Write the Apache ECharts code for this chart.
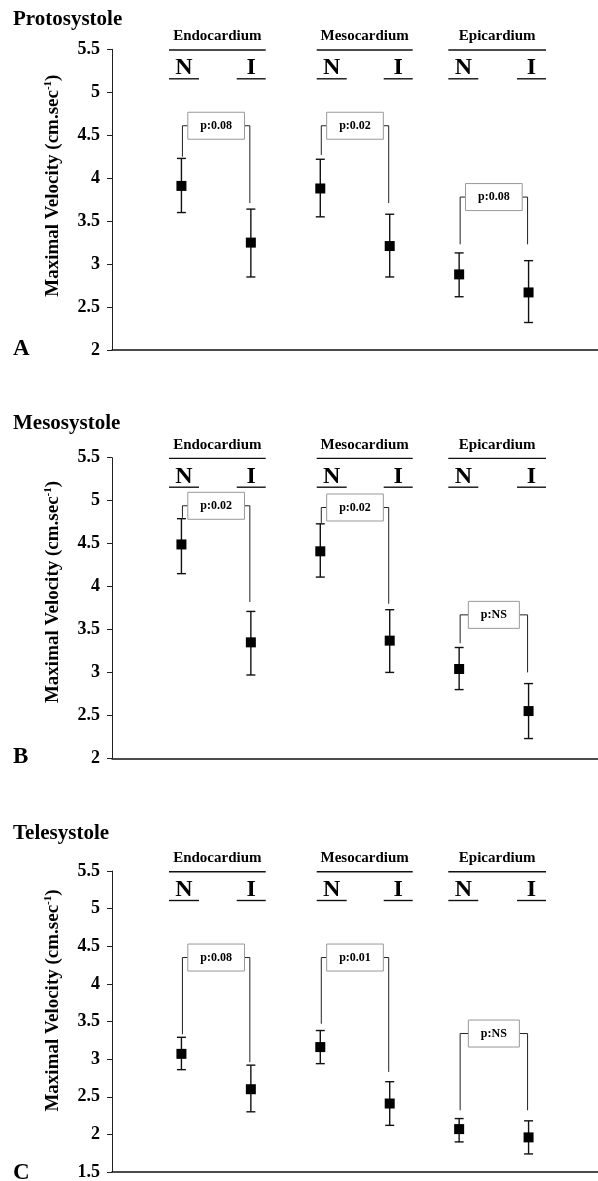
<!DOCTYPE html>
<html>
<head>
<meta charset="utf-8">
<script src="https://cdn.jsdelivr.net/npm/echarts@6/dist/echarts.min.js"></script>
<style>html,body{margin:0;padding:0;background:#fff;}#chart{width:598px;height:1181px;}</style>
</head>
<body>
<div id="chart"></div>
<script>
// ---- data ----
const panelTitles = ['Protosystole', 'Mesosystole', 'Telesystole'];
const panelLetters = ['A', 'B', 'C'];
const layers = ['Endocardium', 'Mesocardium', 'Epicardium'];
const conditions = ['N', 'I'];
const yAxisMin = [2, 2, 1.5];
const yAxisMax = [5.5, 5.5, 5.5];
const yTickStep = 0.5;
const yAxisTitle = 'Maximal Velocity (cm.sec';
const yAxisTitleSup = '-1';

// order: Endo N, Endo I, Meso N, Meso I, Epi N, Epi I
const protoMean = [3.91, 3.25, 3.88, 3.21, 2.88, 2.67];
const protoHigh = [4.23, 3.64, 4.22, 3.58, 3.13, 3.04];
const protoLow  = [3.60, 2.85, 3.55, 2.85, 2.62, 2.32];
const mesoMean  = [4.49, 3.35, 4.41, 3.37, 3.04, 2.55];
const mesoHigh  = [4.79, 3.71, 4.73, 3.73, 3.29, 2.87];
const mesoLow   = [4.15, 2.97, 4.11, 3.00, 2.80, 2.23];
const teleMean  = [3.07, 2.60, 3.16, 2.41, 2.07, 1.96];
const teleHigh  = [3.29, 2.92, 3.38, 2.70, 2.21, 2.18];
const teleLow   = [2.86, 2.30, 2.94, 2.12, 1.90, 1.74];

// significance brackets per layer
const protoP = ['p:0.08', 'p:0.02', 'p:0.08'];
const mesoP  = ['p:0.02', 'p:0.02', 'p:NS'];
const teleP  = ['p:0.08', 'p:0.01', 'p:NS'];
const protoBracket = [4.61, 4.61, 3.78];
const protoLegN    = [4.25, 4.27, 3.23];
const protoLegI    = [3.71, 3.71, 3.23];
const mesoBracket  = [4.94, 4.92, 3.67];
const mesoLegN     = [4.80, 4.74, 3.34];
const mesoLegI     = [3.82, 3.80, 3.00];
const teleBracket  = [4.35, 4.35, 3.34];
const teleLegN     = [3.33, 3.47, 2.32];
const teleLegI     = [2.96, 2.83, 2.32];

// ---- layout / style ----
const FONT = '"Liberation Serif","Times New Roman","DejaVu Serif",serif';
const panels = [
  {mean: protoMean, high: protoHigh, low: protoLow, p: protoP, br: protoBracket, legN: protoLegN, legI: protoLegI},
  {mean: mesoMean, high: mesoHigh, low: mesoLow, p: mesoP, br: mesoBracket, legN: mesoLegN, legI: mesoLegI},
  {mean: teleMean, high: teleHigh, low: teleLow, p: teleP, br: teleBracket, legN: teleLegN, legI: teleLegI}
];
const gridBoxes = [
  {top: 49.3, height: 300.7, titleY: 20, letterY: 349, nameShift: 28},
  {top: 457.7, height: 300.6, titleY: 424, letterY: 757.5, nameShift: 32},
  {top: 871, height: 303, titleY: 833.5, letterY: 1173, nameShift: 42}
];
const GRID_LEFT = 112, GRID_WIDTH = 489;
const headerSpans = [[169, 265.7], [316.7, 412.7], [448.3, 546]];

const measureCtx = document.createElement('canvas').getContext('2d');
measureCtx.font = 'bold 12px ' + FONT;
function textW(t) { return measureCtx.measureText(t).width; }

const chart = echarts.init(document.getElementById('chart'), null, {renderer: 'canvas'});

const grid = [], xAxis = [], yAxis = [], series = [], graphic = [];

panels.forEach((pd, i) => {
  const gb = gridBoxes[i];
  grid.push({left: GRID_LEFT, width: GRID_WIDTH, top: gb.top, height: gb.height});
  xAxis.push({
    type: 'value', gridIndex: i, min: 0, max: 7,
    axisLine: {show: true, onZero: false, lineStyle: {color: '#111', width: 1.5}},
    axisTick: {show: false}, axisLabel: {show: false}, splitLine: {show: false}
  });
  yAxis.push({
    type: 'value', gridIndex: i, min: yAxisMin[i], max: yAxisMax[i], interval: yTickStep,
    axisLine: {show: true, lineStyle: {color: '#222', width: 1}},
    axisTick: {show: true, length: 5, lineStyle: {color: '#222', width: 1}},
    axisLabel: {margin: 12, color: '#000', fontFamily: FONT, fontWeight: 'bold', fontSize: 18},
    splitLine: {show: false},
    name: '{a|' + yAxisTitle + '}{s|' + yAxisTitleSup + '}{a|)}',
    nameLocation: 'middle', nameGap: 48,
    nameTextStyle: {
      padding: [0, 0, 0, gb.nameShift],
      rich: {
        a: {fontFamily: FONT, fontWeight: 'bold', fontSize: 19, color: '#000', lineHeight: 21},
        s: {fontFamily: FONT, fontWeight: 'bold', fontSize: 11, color: '#000', verticalAlign: 'top'}
      }
    }
  });

  // error bars
  series.push({
    type: 'custom', xAxisIndex: i, yAxisIndex: i, clip: false,
    data: pd.mean.map((_, k) => [k + 1, pd.high[k], pd.low[k]]),
    encode: {x: 0, y: [1, 2]},
    renderItem: function (params, api) {
      const x = api.value(0);
      const t = api.coord([x, api.value(1)]);
      const b = api.coord([x, api.value(2)]);
      const w = 4.5;
      const st = {stroke: '#111', lineWidth: 1.4};
      return {type: 'group', children: [
        {type: 'line', shape: {x1: t[0], y1: t[1], x2: b[0], y2: b[1]}, style: st},
        {type: 'line', shape: {x1: t[0] - w, y1: t[1], x2: t[0] + w, y2: t[1]}, style: st},
        {type: 'line', shape: {x1: b[0] - w, y1: b[1], x2: b[0] + w, y2: b[1]}, style: st}
      ]};
    }
  });
  // means
  series.push({
    type: 'scatter', xAxisIndex: i, yAxisIndex: i, z: 5,
    symbol: 'rect', symbolSize: 10,
    itemStyle: {color: '#000', opacity: 1},
    data: pd.mean.map((m, k) => [k + 1, m])
  });
  // brackets
  series.push({
    type: 'custom', xAxisIndex: i, yAxisIndex: i, clip: false, z: 3,
    data: layers.map((_, g) => [2 * g + 1, 2 * g + 2, pd.br[g], pd.legN[g], pd.legI[g]]),
    encode: {x: [0, 1], y: [2, 3, 4]},
    renderItem: function (params, api) {
      const label = pd.p[params.dataIndex];
      const pL = api.coord([api.value(0), api.value(2)]);
      const pR = api.coord([api.value(1), api.value(2)]);
      const bN = api.coord([api.value(0), api.value(3)]);
      const bI = api.coord([api.value(1), api.value(4)]);
      const cx = (pL[0] + pR[0]) / 2;
      const bw = textW(label) + 25, bh = 27;
      const ls = {stroke: '#222', lineWidth: 1, fill: null};
      return {type: 'group', children: [
        {type: 'polyline', shape: {points: [[pL[0] + 1, bN[1]], [pL[0] + 1, pL[1]], [cx - bw / 2, pL[1]]]}, style: ls},
        {type: 'polyline', shape: {points: [[cx + bw / 2, pR[1]], [pR[0] - 1, pR[1]], [pR[0] - 1, bI[1]]]}, style: ls},
        {type: 'rect', shape: {x: cx - bw / 2, y: pL[1] - bh / 2, width: bw, height: bh},
         style: {fill: '#fff', stroke: '#999', lineWidth: 1}},
        {type: 'text', x: cx, y: pL[1], style: {text: label, fill: '#000', font: 'bold 12px ' + FONT,
          align: 'center', verticalAlign: 'middle'}}
      ]};
    }
  });

  // titles, letters, header
  const t = gb.top;
  graphic.push({type: 'text', x: 13, y: gb.titleY, style: {text: panelTitles[i], fill: '#000',
    font: 'bold 21px ' + FONT, align: 'left', verticalAlign: 'middle', textAlign: 'left', textVerticalAlign: 'middle'}});
  graphic.push({type: 'text', x: 13, y: gb.letterY, style: {text: panelLetters[i], fill: '#000',
    font: 'bold 23px ' + FONT, align: 'left', verticalAlign: 'middle', textAlign: 'left', textVerticalAlign: 'middle'}});
  layers.forEach((name, g) => {
    const [l, r] = headerSpans[g];
    const hs = {stroke: '#111', lineWidth: 1.4};
    graphic.push({type: 'text', x: (l + r) / 2, y: t - 13, style: {text: name, fill: '#000',
      font: 'bold 15px ' + FONT, align: 'center', verticalAlign: 'middle', textAlign: 'center', textVerticalAlign: 'middle'}});
    graphic.push({type: 'line', shape: {x1: l, y1: t + 0.7, x2: r, y2: t + 0.7}, style: hs});
    graphic.push({type: 'text', x: l + 15, y: t + 18.7, style: {text: conditions[0], fill: '#000',
      font: 'bold 24px ' + FONT, align: 'center', verticalAlign: 'middle', textAlign: 'center', textVerticalAlign: 'middle'}});
    graphic.push({type: 'line', shape: {x1: l, y1: t + 29.5, x2: l + 30, y2: t + 29.5}, style: hs});
    graphic.push({type: 'text', x: r - 14.5, y: t + 18.7, style: {text: conditions[1], fill: '#000',
      font: 'bold 24px ' + FONT, align: 'center', verticalAlign: 'middle', textAlign: 'center', textVerticalAlign: 'middle'}});
    graphic.push({type: 'line', shape: {x1: r - 29, y1: t + 29.5, x2: r, y2: t + 29.5}, style: hs});
  });
});

chart.setOption({
  animation: false,
  backgroundColor: '#fff',
  grid: grid, xAxis: xAxis, yAxis: yAxis, series: series,
  graphic: {elements: graphic}
});
</script>
</body>
</html>
